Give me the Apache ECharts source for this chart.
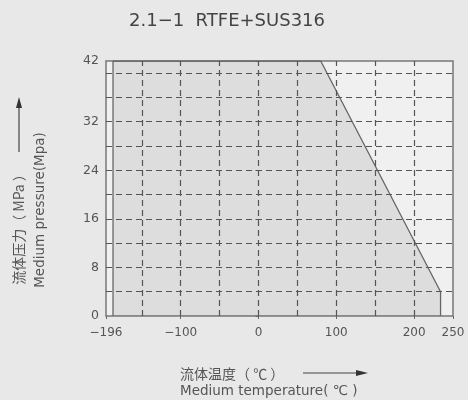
<!DOCTYPE html>
<html><head><meta charset="utf-8">
<script src="https://cdn.jsdelivr.net/npm/echarts@6/dist/echarts.min.js"></script>
<style>html,body{margin:0;padding:0;background:#e8e8e8}#c{width:468px;height:400px}</style>
</head><body><div id="c"></div>
<script>
// Data
var titleText = '2.1\u22121  RTFE+SUS316';
var xTickLabels = [-196, -100, 0, 100, 200, 250];
var yTickLabels = [0, 8, 16, 24, 32, 42];
var xGrid = [-150, -100, -50, 0, 50, 100, 150, 200];
var yGrid = [4, 8, 12, 16, 20, 24, 28, 32, 36, 40];
var limitTemp = [-187, -187, 80, 234, 234];
var limitPress = [0, 42, 42, 4, 0];
var xMin = -196, xMax = 250, yMin = 0, yMax = 42;

var chart = echarts.init(document.getElementById('c'), null, {renderer: 'canvas'});
var font = '"DejaVu Sans", sans-serif';
var cjk = '"Noto Sans CJK SC", sans-serif';
var area = limitTemp.map(function (t, i) { return [t, limitPress[i]]; });
var gridStyle = {type: [6, 4], color: '#555', width: 1.2};
var mlData = xGrid.map(function (v) { return {xAxis: v}; })
  .concat(yGrid.map(function (v) { return {yAxis: v}; }));

chart.setOption({
  backgroundColor: '#e8e8e8',
  animation: false,
  grid: {left: 106, top: 61, right: 15, bottom: 84, show: true,
    backgroundColor: '#f0f0f0', borderColor: '#777', borderWidth: 1.5},
  xAxis: {type: 'value', min: xMin, max: xMax,
    axisLine: {show: false}, splitLine: {show: false},
    axisTick: {show: true, length: 3, customValues: xTickLabels, lineStyle: {color: '#666'}},
    axisLabel: {customValues: xTickLabels, color: '#555', fontSize: 12, fontFamily: font, margin: 11,
      formatter: function (v) { return v < 0 ? '\u2212' + (-v) : String(v); }}},
  yAxis: {type: 'value', min: yMin, max: yMax,
    axisLine: {show: false}, splitLine: {show: false},
    axisTick: {show: true, length: 3, customValues: yTickLabels, lineStyle: {color: '#666'}},
    axisLabel: {customValues: yTickLabels, color: '#555', fontSize: 12.5, fontFamily: font, margin: 7}},
  series: [{
    type: 'line', data: area, symbol: 'none', silent: true,
    lineStyle: {color: '#666', width: 1.3},
    areaStyle: {color: 'rgba(0,0,0,0.11)', origin: 'start'},
    markLine: {silent: true, symbol: 'none', label: {show: false}, lineStyle: gridStyle, data: mlData}
  }],
  graphic: [
    {type: 'text', x: 227, y: 21, style: {text: titleText, fill: '#444', font: '18px ' + font, align: 'center', verticalAlign: 'middle'}},
    {type: 'text', x: 19, y: 226, rotation: Math.PI / 2, style: {text: '流体压力（ MPa ）', fill: '#555', font: '14px ' + cjk, align: 'center', verticalAlign: 'middle'}},
    {type: 'text', x: 40, y: 210, rotation: Math.PI / 2, style: {text: 'Medium pressure(Mpa)', fill: '#555', font: '13.5px ' + font, align: 'center', verticalAlign: 'middle'}},
    {type: 'line', shape: {x1: 19, y1: 152, x2: 19, y2: 106}, style: {stroke: '#444', lineWidth: 1.2}},
    {type: 'polygon', shape: {points: [[19, 97], [16, 108], [22, 108]]}, style: {fill: '#333'}},
    {type: 'text', x: 180, y: 374, style: {text: '流体温度（ ℃ ）', fill: '#555', font: '14px ' + cjk, align: 'left', verticalAlign: 'middle'}},
    {type: 'text', x: 180, y: 391, style: {text: 'Medium temperature( ℃ )', fill: '#555', font: '13.5px ' + font, align: 'left', verticalAlign: 'middle'}},
    {type: 'line', shape: {x1: 303, y1: 373, x2: 358, y2: 373}, style: {stroke: '#444', lineWidth: 1.2}},
    {type: 'polygon', shape: {points: [[368, 373], [356, 370], [356, 376]]}, style: {fill: '#333'}}
  ]
});
</script></body></html>
